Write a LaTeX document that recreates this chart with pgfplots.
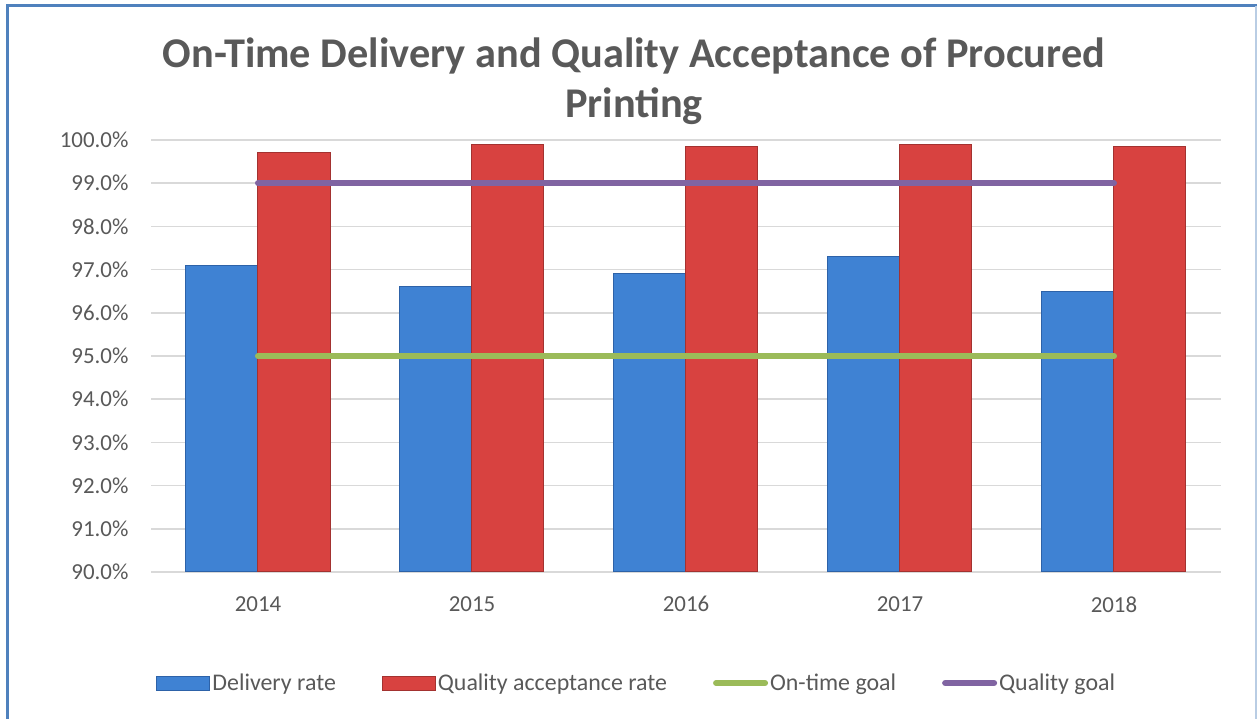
\documentclass[border=0pt]{standalone}
\usepackage{pgfplots}
\pgfplotsset{compat=1.18}
\usepackage{fontspec}
\setmainfont{Carlito}
\definecolor{txt}{HTML}{595959}
\definecolor{gridc}{HTML}{D9D9D9}
\definecolor{bluem}{HTML}{3F82D3}
\definecolor{blued}{HTML}{2D62A8}
\definecolor{redm}{HTML}{D84240}
\definecolor{redd}{HTML}{A33230}
\definecolor{greenl}{HTML}{9BBB59}
\definecolor{purplel}{HTML}{8064A2}
\definecolor{frame}{HTML}{4F81BD}
\begin{document}
\begin{tikzpicture}
\path[use as bounding box] (0,0) rectangle (1258bp,719bp);
\draw[frame, line width=3bp] (7bp,0) -- (7bp,713bp) -- (1257bp,713bp);
\draw[frame!40, line width=1.5bp] (1256bp,713bp) -- (1256bp,0);
\node[anchor=base, text=txt, font=\fontsize{42.5}{50}\selectfont\bfseries] at (634bp,651bp) {On-Time Delivery and Quality Acceptance of Procured};
\node[anchor=base, text=txt, font=\fontsize{42.5}{50}\selectfont\bfseries] at (634bp,601bp) {Printing};
\begin{axis}[
  at={(151bp,147bp)}, anchor=south west,
  scale only axis, width=1070bp, height=432bp,
  xmin=-0.5, xmax=4.5, ymin=90, ymax=100,
  ytick={90,91,...,100},
  xtick={0,1,2,3,4}, xticklabels={2014,2015,2016,2017,2018},
  /pgf/number format/assume math mode=true,
  yticklabel={\pgfmathprintnumber[fixed,fixed zerofill,precision=1]{\tick}\%},
  tick label style={font=\fontsize{23}{27}\selectfont, text=txt},
  yticklabel style={xshift=-19bp},
  xticklabel style={yshift=-21bp},
  major tick length=0pt,
  axis line style={draw=none},
  axis x line*=bottom,
  ymajorgrids, grid style={gridc, line width=1.5bp},
  legend columns=4,
  legend style={at={(0.454,-0.257)}, anchor=center, draw=none, fill=none,
    font=\fontsize{24}{28}\selectfont, text=txt,
    /tikz/every even column/.append style={column sep=44bp}},
  legend cell align=left,
]
\draw[gridc, line width=1.5bp] (axis cs:-0.5,90) -- (axis cs:4.5,90);
\addplot[ybar, bar width=72bp, bar shift=-36bp, draw=blued, line width=1bp, fill=bluem,
  area legend, legend image code/.code={\draw[draw=blued, line width=1bp, fill=bluem] (0bp,-7bp) rectangle (53bp,7bp);}]
  coordinates {(0,97.1) (1,96.6) (2,96.9) (3,97.3) (4,96.5)};
\addlegendentry{Delivery rate}
\addplot[ybar, bar width=72bp, bar shift=36bp, draw=redd, line width=1bp, fill=redm,
  area legend, legend image code/.code={\draw[draw=redd, line width=1bp, fill=redm] (0bp,-7bp) rectangle (53bp,7bp);}]
  coordinates {(0,99.7) (1,99.9) (2,99.85) (3,99.9) (4,99.85)};
\addlegendentry{Quality acceptance rate}
\addplot[greenl, line width=6bp, line cap=round, no markers,
  legend image code/.code={\draw[greenl, line width=6bp, line cap=round] (3bp,0) -- (52bp,0);}]
  coordinates {(0,95) (1,95) (2,95) (3,95) (4,95)};
\addlegendentry{On-time goal}
\addplot[purplel, line width=6bp, line cap=round, no markers,
  legend image code/.code={\draw[purplel, line width=6bp, line cap=round] (3bp,0) -- (52bp,0);}]
  coordinates {(0,99) (1,99) (2,99) (3,99) (4,99)};
\addlegendentry{Quality goal}
\end{axis}
\end{tikzpicture}
\end{document}
